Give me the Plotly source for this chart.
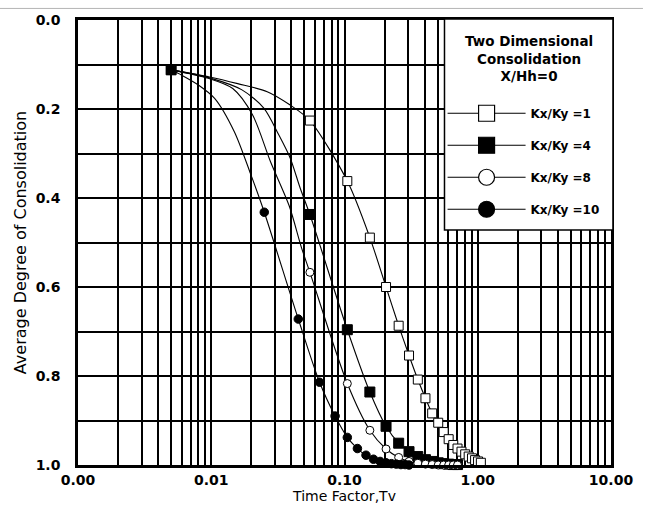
import plotly.graph_objects as go

# ---------------- data ----------------
series_names = ["Kx/Ky =1", "Kx/Ky =4", "Kx/Ky =8", "Kx/Ky =10"]

# marker points
tv_k1 = [0.005, 0.055, 0.105, 0.155, 0.205, 0.255, 0.305, 0.355, 0.405, 0.455, 0.505,
         0.555, 0.605, 0.655, 0.705, 0.755, 0.805, 0.855, 0.905, 0.955, 1.005, 1.055]
u_k1 = [0.112, 0.226, 0.362, 0.489, 0.600, 0.687, 0.754, 0.808, 0.850, 0.884, 0.905,
        0.926, 0.942, 0.955, 0.963, 0.970, 0.976, 0.981, 0.985, 0.989, 0.992, 0.995]

tv_k4 = [0.005, 0.055, 0.105, 0.155, 0.205, 0.255, 0.305, 0.355, 0.405, 0.455, 0.505,
         0.555, 0.605, 0.655, 0.705]
u_k4 = [0.112, 0.437, 0.696, 0.836, 0.913, 0.951, 0.970, 0.981, 0.988, 0.992, 0.995,
        0.997, 0.998, 0.999, 0.999]

tv_k8 = [0.005, 0.055, 0.105, 0.155, 0.205, 0.255, 0.305, 0.355, 0.405, 0.455, 0.505,
         0.555, 0.605, 0.655, 0.705]
u_k8 = [0.112, 0.567, 0.817, 0.922, 0.964, 0.983, 0.992, 0.996, 0.998, 0.999, 1.000,
        1.000, 1.000, 1.000, 1.000]

tv_k10 = [0.005, 0.025, 0.045, 0.065, 0.085, 0.105, 0.125, 0.145, 0.165, 0.185, 0.205,
          0.225, 0.245, 0.265, 0.285, 0.305]
u_k10 = [0.112, 0.432, 0.672, 0.814, 0.890, 0.938, 0.963, 0.978, 0.987, 0.992, 0.995,
         0.997, 0.998, 0.999, 0.999, 1.000]

# extra points (line only, no marker)
curve_tv_k1 = [0.0097, 0.0158, 0.0263, 0.0391]
curve_u_k1 = [0.128, 0.143, 0.161, 0.191]
curve_tv_k4 = [0.0097, 0.0170, 0.0248, 0.0321, 0.0391, 0.0464]
curve_u_k4 = [0.130, 0.157, 0.198, 0.258, 0.310, 0.377]
curve_tv_k8 = [0.0095, 0.0145, 0.0204, 0.0278, 0.0385, 0.0476]
curve_u_k8 = [0.131, 0.154, 0.213, 0.318, 0.418, 0.512]
curve_tv_k10 = [0.0060, 0.0080, 0.0106, 0.0149, 0.0198]
curve_u_k10 = [0.124, 0.146, 0.176, 0.251, 0.347]

# axis ticks / labels
x_tick_values = [1e-3, 2e-3, 3e-3, 4e-3, 5e-3, 6e-3, 7e-3, 8e-3, 9e-3,
                 1e-2, 2e-2, 3e-2, 4e-2, 5e-2, 6e-2, 7e-2, 8e-2, 9e-2,
                 1e-1, 2e-1, 3e-1, 4e-1, 5e-1, 6e-1, 7e-1, 8e-1, 9e-1,
                 1, 2, 3, 4, 5, 6, 7, 8, 9, 10]
x_tick_labels = ["0.00"] + [""] * 8 + ["0.01"] + [""] * 8 + ["0.10"] + [""] * 8 + \
                ["1.00"] + [""] * 8 + ["10.00"]
y_tick_values = [0.0, 0.1, 0.2, 0.3, 0.4, 0.5, 0.6, 0.7, 0.8, 0.9, 1.0]
y_tick_labels = ["0.0", "", "0.2", "", "0.4", "", "0.6", "", "0.8", "", "1.0"]

legend_title = "Two Dimensional<br>Consolidation<br>X/Hh=0"
x_title = "Time Factor,Tv"
y_title = "Average Degree of Consolidation"

# ---------------- styles ----------------
styles = [
    dict(symbol="square", color="white", size=9),
    dict(symbol="square", color="black", size=10),
    dict(symbol="circle", color="white", size=8),
    dict(symbol="circle", color="black", size=8.5),
]
marker_sets = [(tv_k1, u_k1), (tv_k4, u_k4), (tv_k8, u_k8), (tv_k10, u_k10)]
curve_sets = [(curve_tv_k1, curve_u_k1), (curve_tv_k4, curve_u_k4),
              (curve_tv_k8, curve_u_k8), (curve_tv_k10, curve_u_k10)]

FONT = "DejaVu Sans"
fig = go.Figure()

# curves
for (mt, mu), (ct, cu) in zip(marker_sets, curve_sets):
    pts = sorted(list(zip(mt, mu)) + list(zip(ct, cu)))
    fig.add_trace(go.Scatter(
        x=[p[0] for p in pts], y=[p[1] for p in pts], mode="lines",
        line=dict(color="black", width=1.1, shape="spline", smoothing=0.8),
        showlegend=False, hoverinfo="skip"))

# markers
for (mt, mu), st, nm in zip(marker_sets, styles, series_names):
    fig.add_trace(go.Scatter(
        x=mt, y=mu, mode="markers", name=nm, cliponaxis=False,
        marker=dict(symbol=st["symbol"], color=st["color"], size=st["size"],
                    line=dict(color="black", width=1)),
        showlegend=False))

# legend entries
for st, nm in zip(styles, series_names):
    fig.add_trace(go.Scatter(
        x=[None], y=[None], mode="lines+markers", name=nm, legendgroup=nm,
        line=dict(color="black", width=1.2),
        marker=dict(symbol=st["symbol"], color=st["color"], size=16,
                    line=dict(color="black", width=1.2))))

# page rule at the very top
fig.add_shape(type="line", xref="paper", yref="paper", x0=-0.16, x1=1.06,
              y0=1.026, y1=1.026, line=dict(color="#b4b4b4", width=1))
# legend frame
fig.add_shape(type="rect", xref="paper", yref="paper", x0=0.6876, x1=1.0037,
              y0=0.528, y1=1.0022, line=dict(color="black", width=1.5),
              fillcolor="white", layer="above")
# legend title
fig.add_annotation(text=legend_title, xref="paper", yref="paper", x=0.8457, y=0.9128,
                   xanchor="center", yanchor="middle", align="center", showarrow=False,
                   font=dict(family=FONT, size=13.5, weight="bold", color="black"))

fig.update_layout(
    width=645, height=522,
    margin=dict(l=78, r=26, t=18, b=57),
    paper_bgcolor="white", plot_bgcolor="white",
    font=dict(family=FONT, color="black", size=13),
    showlegend=True,
    legend=dict(x=0.684, y=0.823, xanchor="left", yanchor="top",
                bgcolor="rgba(0,0,0,0)", borderwidth=0,
                font=dict(family=FONT, size=12, weight="bold"),
                itemwidth=78, tracegroupgap=13, itemsizing="trace"),
    xaxis=dict(type="log", range=[-3, 1], tickvals=x_tick_values, ticktext=x_tick_labels,
               showgrid=True, gridcolor="black", gridwidth=1.6,
               showline=True, linecolor="black", linewidth=2.5, mirror=True,
               ticks="", zeroline=False,
               tickfont=dict(family=FONT, size=14, weight="bold"),
               title=dict(text=x_title, font=dict(family=FONT, size=14), standoff=2)),
    yaxis=dict(range=[1, 0], tickvals=y_tick_values, ticktext=y_tick_labels,
               showgrid=True, gridcolor="black", gridwidth=1.6,
               showline=True, linecolor="black", linewidth=2.5, mirror=True,
               ticks="", zeroline=False, ticklabelstandoff=12,
               tickfont=dict(family=FONT, size=14, weight="bold"),
               title=dict(text=y_title, font=dict(family=FONT, size=16), standoff=6)),
)

fig.write_html("out.html")
